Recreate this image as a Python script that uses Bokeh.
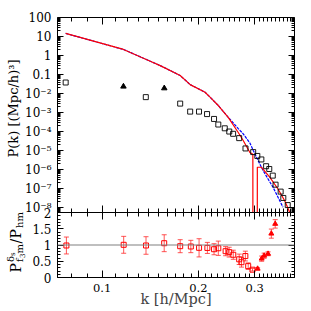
from bokeh.plotting import figure
from bokeh.layouts import column, row
from bokeh.models import (FixedTicker, CustomJSTickFormatter, LogAxis, LinearAxis,
                          ColumnDataSource, Whisker, TeeHead, Span, Label, Range1d)
from bokeh.embed import file_html
from bokeh.resources import INLINE

FONT = "DejaVu Serif"

# ---------------- data ----------------
# model curves, top panel
k_red = [0.0769, 0.1166, 0.1415, 0.1520, 0.1755, 0.1886, 0.2100, 0.2176, 0.2310,
         0.2481, 0.2667, 0.2764, 0.2900, 0.2963, 0.2965, 0.3058, 0.3060, 0.3154,
         0.3346, 0.3552, 0.3727, 0.3864, 0.4005]
P_red = [14.5, 2.09, 0.50, 0.295, 0.089, 0.0295, 0.0117, 0.00646, 0.00234,
         5.6e-4, 8.9e-5, 3.4e-5, 7.9e-6, 6.3e-6, 1e-15, 1e-15, 1.32e-6, 1.32e-6,
         4.0e-7, 9.5e-8, 2.3e-8, 5.6e-9, 2.5e-9]

k_blue = [0.0769, 0.1166, 0.1415, 0.1520, 0.1755, 0.1886, 0.2100, 0.2176, 0.2310,
          0.2481, 0.2543, 0.2667, 0.2764, 0.2900, 0.2970, 0.3078, 0.3189, 0.3306,
          0.3426, 0.3552, 0.3681]
P_blue = [14.5, 2.09, 0.50, 0.295, 0.089, 0.0295, 0.0117, 0.00646, 0.00234,
          5.6e-4, 3.55e-4, 1.41e-4, 7.6e-5, 2.5e-5, 1.05e-5, 2.95e-6, 8.9e-7, 3.2e-7,
          1.17e-7, 3.5e-8, 1.05e-8]

# measured spectrum, top panel
k_sq = [0.0769, 0.137, 0.1755, 0.1886, 0.201, 0.213, 0.224, 0.231, 0.242, 0.250,
        0.257, 0.2685, 0.281, 0.297, 0.306, 0.315, 0.326, 0.3335, 0.342, 0.349,
        0.362, 0.369, 0.381]
P_sq = [0.038, 0.00646, 0.00295, 0.00112, 0.00112, 8.3e-4, 4.6e-4, 2.34e-4, 1.48e-4,
        1.0e-4, 7.6e-5, 4.5e-5, 1.29e-5, 8.3e-6, 5.2e-6, 3.4e-6, 1.5e-6, 1.07e-6,
        4.8e-7, 1.6e-7, 6.9e-8, 3.2e-8, 1.35e-8]
k_tri = [0.1166, 0.1565]
P_tri = [0.0234, 0.019]

# ratio, bottom panel
k_rsq = [0.0773, 0.1168, 0.1372, 0.1564, 0.1755, 0.1895, 0.2011, 0.2135, 0.2240,
         0.2310, 0.2435, 0.2498, 0.2573, 0.2685, 0.2730, 0.2807, 0.2865, 0.2955]
r_rsq = [0.985, 1.006, 0.985, 1.055, 0.963, 0.954, 0.913, 0.91, 0.87,
         0.90, 0.81, 0.78, 0.70, 0.56, 0.47, 0.66, 0.35, 0.24]
e_rsq = [0.26, 0.26, 0.27, 0.26, 0.20, 0.19, 0.28, 0.17, 0.17,
         0.22, 0.14, 0.15, 0.14, 0.16, 0.15, 0.15, 0.10, 0.04]
k_rtri = [0.3066, 0.3157, 0.3214, 0.3306, 0.3385, 0.3481]
r_rtri = [0.27, 0.58, 0.67, 0.73, 1.35, 1.65]
e_rtri = [0.03, 0.08, 0.08, 0.06, 0.14, 0.13]
ref_level = 1.0

x_tick_values = [0.1, 0.2, 0.3]
x_tick_labels = ["0.1", "0.2", "0.3"]
y_top_tick_values = [100, 10, 1, 0.1, 1e-2, 1e-3, 1e-4, 1e-5, 1e-6, 1e-7, 1e-8]
y_top_tick_labels = ["100", "10", "1", "0.1", "10⁻²", "10⁻³", "10⁻⁴", "10⁻⁵",
                     "10⁻⁶", "10⁻⁷", "10⁻⁸"]
y_bot_tick_values = [0, 0.5, 1, 1.5, 2]
y_bot_tick_labels = ["0", "0.5", "1", "1.5", "2"]

x_range = (0.0725, 0.4)
y_top_range = (5.5e-9, 100)
y_bot_range = (0, 2)

y_top_title = "P(k) [(Mpc/h)³]"
x_title = "k [h/Mpc]"
# ratio-panel title:  P^{δ_s}_{f_3 m} / P_{hm}, pieces (text, along, across, size)
y_bot_title_pieces = [("P", 0, 0, 14), ("δ", 10.5, 5, 10), ("s", 16.5, 3, 7),
                      ("f", 10.5, -4, 10), ("3", 14.5, -6, 7), ("m", 19, -4, 10),
                      ("/", 29, 0, 14), ("P", 34, 0, 14), ("hm", 44.5, -4, 10)]

# ---------------- helpers ----------------
FMT_CODE = """
let best = 0, bd = Infinity;
for (let i = 0; i < vals.length; i++) {
  const d = islog ? Math.abs(Math.log10(vals[i]) - Math.log10(tick)) : Math.abs(vals[i] - tick);
  if (d < bd) { bd = d; best = i; }
}
return labs[best];
"""


def fmt(vals, labs, islog):
    return CustomJSTickFormatter(args=dict(vals=vals, labs=labs, islog=islog), code=FMT_CODE)


x_minor = [round(0.01 * i, 2) for i in range(8, 40) if i not in (10, 20, 30)]
y_top_minor = [m * 10.0 ** d for d in range(-9, 2) for m in range(2, 10)]
y_bot_minor = [round(0.1 * i, 1) for i in range(0, 21)]


def style_axis(ax, labels, major_in=7, minor_in=4, size="12px", standoff=6):
    ax.axis_line_color = None
    ax.major_tick_in = major_in
    ax.major_tick_out = 0
    ax.minor_tick_in = minor_in
    ax.minor_tick_out = 0
    ax.major_tick_line_color = "black"
    ax.minor_tick_line_color = "black"
    ax.major_tick_line_width = 1
    ax.minor_tick_line_width = 1
    ax.major_label_text_font = FONT
    ax.major_label_text_color = "black"
    if labels:
        ax.major_label_text_font_size = size
        ax.major_label_standoff = standoff
    else:
        ax.major_label_text_font_size = "0px"
        ax.major_label_standoff = 0
        ax.formatter = CustomJSTickFormatter(code="return '';")


TITLE_W, TITLE_OVER = 28, 8
FW, FH_TOP, FH_BOT = 237, 195, 65
LEFT, RIGHT, TOPB, BOTB = 57 - (TITLE_W - TITLE_OVER), 17, 17, 34
OVER_TOP, OVER_BOT = 6, 8
TOTAL_H = TOPB + FH_TOP + FH_BOT + BOTB

# ---------------- top panel ----------------
top = figure(frame_width=FW, frame_height=FH_TOP, x_axis_type="log", y_axis_type="log",
             x_range=x_range, y_range=y_top_range,
             min_border_left=LEFT, min_border_right=RIGHT, min_border_top=TOPB,
             min_border_bottom=OVER_TOP,
             output_backend="svg", toolbar_location=None)
top.grid.visible = False
top.border_fill_alpha = 0
top.outline_line_color = "black"
top.outline_line_width = 1
top.outline_line_alpha = 1

top.xaxis.ticker = FixedTicker(ticks=x_tick_values, minor_ticks=x_minor)
style_axis(top.xaxis[0], labels=False)
top.yaxis.ticker = FixedTicker(ticks=y_top_tick_values, minor_ticks=y_top_minor)
style_axis(top.yaxis[0], labels=True, major_in=6, minor_in=3, size="12px", standoff=6)
top.yaxis.formatter = fmt(y_top_tick_values, y_top_tick_labels, True)

ax_above = LogAxis(ticker=FixedTicker(ticks=x_tick_values, minor_ticks=x_minor))
style_axis(ax_above, labels=False)
top.add_layout(ax_above, "above")
ax_right = LogAxis(ticker=FixedTicker(ticks=y_top_tick_values, minor_ticks=y_top_minor))
style_axis(ax_right, labels=False, major_in=6, minor_in=3)
top.add_layout(ax_right, "right")

top.line(k_blue, P_blue, line_color="#0000ff", line_width=1.2, line_dash="3 1")
top.line(k_red, P_red, line_color="#ff0000", line_width=1.2)
top.scatter(k_sq, P_sq, marker="square", size=5, fill_color=None,
            line_color="black", line_width=0.9)
top.scatter(k_tri, P_tri, marker="triangle", size=5.5, fill_color="black",
            line_color="black")

# ---------------- bottom panel ----------------
bot = figure(frame_width=FW, frame_height=FH_BOT, x_axis_type="log",
             x_range=top.x_range, y_range=y_bot_range,
             min_border_left=LEFT, min_border_right=RIGHT, min_border_top=OVER_BOT,
             min_border_bottom=BOTB,
             output_backend="svg", toolbar_location=None)
bot.margin = (-(OVER_TOP + OVER_BOT), 0, 0, 0)
bot.background_fill_alpha = 0
bot.border_fill_alpha = 0
bot.grid.visible = False
bot.outline_line_color = "black"
bot.outline_line_width = 1
bot.outline_line_alpha = 1

bot.xaxis.ticker = FixedTicker(ticks=x_tick_values, minor_ticks=x_minor)
style_axis(bot.xaxis[0], labels=True, size="11.5px", standoff=6)
bot.xaxis.formatter = fmt(x_tick_values, x_tick_labels, True)
bot.xaxis.axis_label = x_title
bot.xaxis.axis_label_text_font = FONT
bot.xaxis.axis_label_text_font_size = "14.5px"
bot.xaxis.axis_label_text_font_style = "normal"
bot.xaxis.axis_label_standoff = -4

bot.yaxis.ticker = FixedTicker(ticks=y_bot_tick_values, minor_ticks=y_bot_minor)
style_axis(bot.yaxis[0], labels=True, major_in=6, minor_in=3, size="12px", standoff=6)
bot.yaxis.formatter = fmt(y_bot_tick_values, y_bot_tick_labels, False)

bx_above = LogAxis(ticker=FixedTicker(ticks=x_tick_values, minor_ticks=x_minor))
style_axis(bx_above, labels=False)
bot.add_layout(bx_above, "above")
by_right = LinearAxis(ticker=FixedTicker(ticks=y_bot_tick_values, minor_ticks=y_bot_minor))
style_axis(by_right, labels=False, major_in=6, minor_in=3)
bot.add_layout(by_right, "right")

bot.add_layout(Span(location=ref_level, dimension="width", line_color="#808080",
                    line_width=1.2))

src_sq = ColumnDataSource(dict(k=k_rsq, r=r_rsq,
                               lo=[r - e for r, e in zip(r_rsq, e_rsq)],
                               hi=[r + e for r, e in zip(r_rsq, e_rsq)]))
src_tri = ColumnDataSource(dict(k=k_rtri, r=r_rtri,
                                lo=[r - e for r, e in zip(r_rtri, e_rtri)],
                                hi=[r + e for r, e in zip(r_rtri, e_rtri)]))
for src in (src_sq, src_tri):
    bot.add_layout(Whisker(base="k", lower="lo", upper="hi", source=src,
                           line_color="#ff2a2a", line_alpha=0.8, line_width=1,
                           upper_head=TeeHead(size=5, line_color="#ff2a2a", line_alpha=0.8),
                           lower_head=TeeHead(size=5, line_color="#ff2a2a", line_alpha=0.8)))
bot.scatter("k", "r", source=src_sq, marker="square", size=5, fill_color=None,
            line_color="#ff0000", line_width=1)
bot.scatter("k", "r", source=src_tri, marker="triangle", size=5, fill_color="#ff0000",
            line_color="#ff0000")

# ---------------- strip holding the rotated y titles ----------------
ttl = figure(width=TITLE_W, height=TOTAL_H, x_range=Range1d(0, TITLE_W),
             y_range=Range1d(0, TOTAL_H), min_border=0,
             output_backend="svg", toolbar_location=None)
ttl.axis.visible = False
ttl.grid.visible = False
ttl.outline_line_color = None

ttl.add_layout(Label(x=13, y=154, x_units="screen", y_units="screen",
                     text=y_top_title, angle=1.5707963, text_font=FONT,
                     text_font_size="13px", text_align="left",
                     text_baseline="alphabetic", text_color="black"))
X0, Y0 = 15, 39
for txt, u, v, fs in y_bot_title_pieces:
    ttl.add_layout(Label(x=X0 - v, y=Y0 + u, x_units="screen", y_units="screen",
                         text=txt, angle=1.5707963, text_font=FONT,
                         text_font_size=f"{fs}px", text_align="left",
                         text_baseline="alphabetic", text_color="black"))

panels = column(top, bot)
panels.margin = (0, 0, 0, -TITLE_OVER)
layout = row(ttl, panels)
open("out.html", "w").write(file_html(layout, INLINE))
